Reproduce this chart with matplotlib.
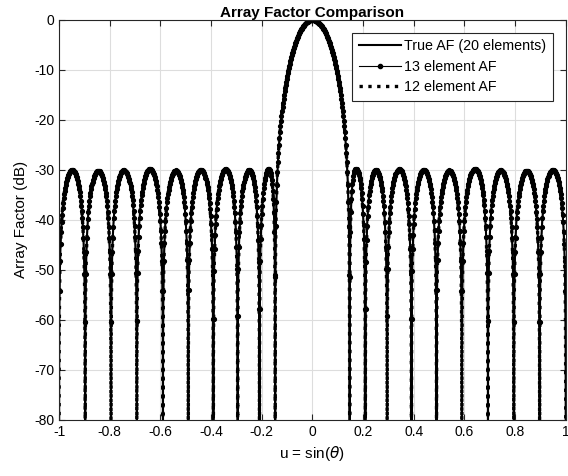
import numpy as np
import matplotlib.pyplot as plt

plt.rcParams['font.family'] = ['Liberation Sans', 'DejaVu Sans']

# null positions in u (positive side, pattern is symmetric)
nulls_u = [0.147, 0.209, 0.295, 0.391, 0.490, 0.590, 0.693, 0.795, 0.897]

# dense sampling plus the null points themselves so every null reaches the floor
u = np.linspace(-1, 1, 20001)
u = np.unique(np.concatenate([u, nulls_u, -np.array(nulls_u)]))
u_mk = np.linspace(-1, 1, 1001)

def af_db(u, nulls):
    af = np.abs(np.cos(np.pi * u / 2))
    for un in nulls:
        af = af * np.abs(np.cos(np.pi * u) - np.cos(np.pi * un))
    af0 = np.prod([1 - np.cos(np.pi * un) for un in nulls])
    return 20 * np.log10(np.maximum(af / af0, 1e-12))

true_af = af_db(u, nulls_u)
af13 = af_db(u, nulls_u)
af13_mk = af_db(u_mk, nulls_u)
af12 = af_db(u, nulls_u)

fig = plt.figure(figsize=(5.68, 4.76), dpi=100)
ax = fig.add_axes([0.104, 0.118, 0.892, 0.840])

ax.plot(u, true_af, 'k-', lw=1.5, label='True AF (20 elements)')
ax.plot(u, af13, 'k-', lw=0.8)
ax.plot(u_mk, af13_mk, 'k.', ms=5.5)
ax.plot([], [], 'k-', lw=0.8, marker='.', ms=6, label='13 element AF')
ax.plot(u, af12, 'k:', lw=2.4, label='12 element AF')

ax.set_xlim(-1, 1)
ax.set_ylim(-80, 0)
ax.set_xticks(np.arange(-1, 1.01, 0.2))
ax.set_xticklabels(['-1', '-0.8', '-0.6', '-0.4', '-0.2', '0', '0.2', '0.4', '0.6', '0.8', '1'])
ax.set_yticks(np.arange(-80, 1, 10))
ax.set_yticklabels([str(v) for v in range(-80, 1, 10)])
ax.tick_params(direction='in', top=True, right=True, labelsize=10, length=4, color='#262626')
ax.grid(True, color='#dddddd', lw=0.8)
ax.set_axisbelow(True)
for s in ax.spines.values():
    s.set_color('#262626')
    s.set_linewidth(0.8)

ax.set_title('Array Factor Comparison', fontsize=11, fontweight='bold', pad=2)
ax.set_xlabel(r'u = sin($\theta$)', fontsize=11)
ax.set_ylabel('Array Factor (dB)', fontsize=11)

leg = ax.legend(loc='upper right', fontsize=10.3, handlelength=3.0, fancybox=False,
                edgecolor='#262626', framealpha=1, borderaxespad=0.9,
                borderpad=0.45, labelspacing=0.45, handletextpad=0.2)
leg.get_frame().set_linewidth(0.8)

fig.savefig('out.png', dpi=100)
